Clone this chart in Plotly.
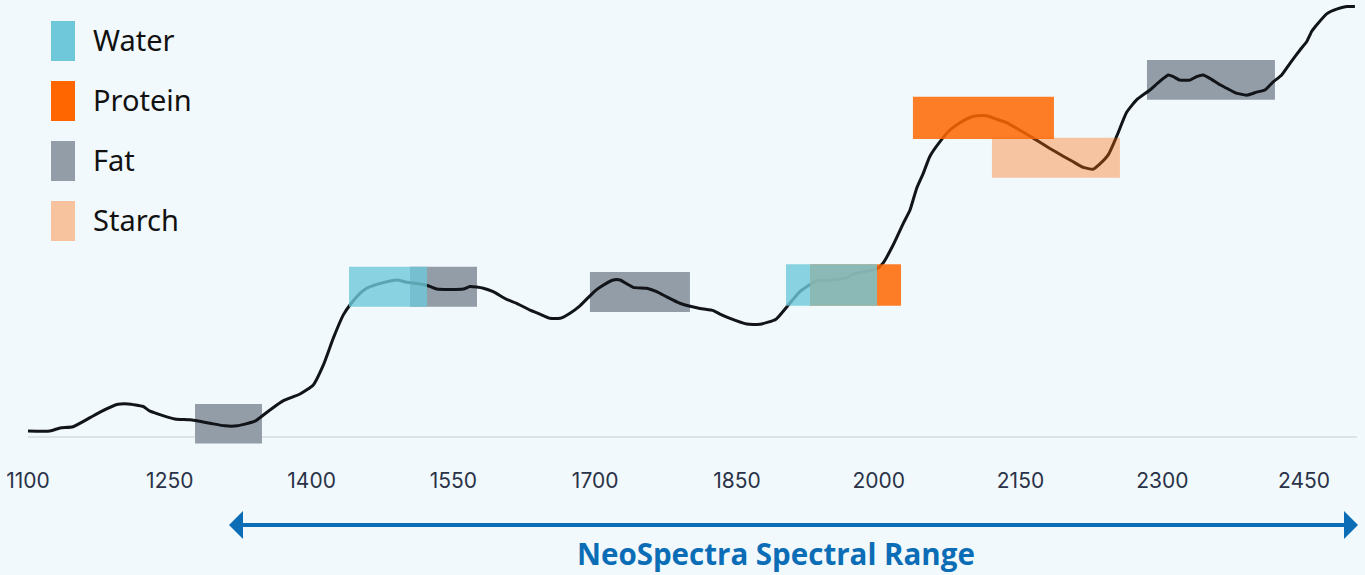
import plotly.graph_objects as go

# ---------------- data ----------------
wavelength = [1100, 1123.3, 1133.9, 1147.6, 1165.6, 1176.2, 1195.2, 1205.8, 1221.7, 1229.1,
              1255.5, 1271.4, 1292.5, 1308.4, 1321.1, 1340.1, 1356.0, 1369.8, 1387.7, 1401.8,
              1412.4, 1423.0, 1433.6, 1440.6, 1451.2, 1458.3, 1475.9, 1490.0, 1500.6, 1511.2,
              1521.8, 1532.4, 1560.5, 1567.6, 1581.7, 1592.2, 1606.4, 1617.0, 1631.1, 1641.6,
              1652.2, 1662.8, 1673.4, 1683.9, 1698.0, 1705.1, 1719.2, 1726.3, 1740.3, 1754.5,
              1765.1, 1775.7, 1789.7, 1810.9, 1825.0, 1832.1, 1842.7, 1860.3, 1874.4, 1891.3,
              1902.9, 1916.7, 1934.3, 1951.9, 1966.1, 1973.1, 1983.7, 1997.8, 2004.8, 2015.4,
              2026.0, 2033.1, 2040.1, 2047.1, 2054.2, 2064.8, 2075.4, 2085.9, 2096.5, 2103.6,
              2114.2, 2124.7, 2135.3, 2145.9, 2163.5, 2181.1, 2195.2, 2205.8, 2216.4, 2227.0,
              2234.0, 2242.8, 2251.7, 2262.3, 2272.8, 2286.9, 2295.7, 2306.3, 2311.6, 2318.7,
              2329.3, 2336.3, 2343.3, 2350.4, 2361.0, 2368.1, 2376.8, 2389.2, 2399.8, 2408.6,
              2417.4, 2426.3, 2435.1, 2445.7, 2452.7, 2458.0, 2463.3, 2473.9, 2484.4, 2495.0,
              2503.8]
absorbance = [0.014, 0.014, 0.021, 0.024, 0.045, 0.058, 0.076, 0.077, 0.071, 0.060,
              0.042, 0.040, 0.032, 0.026, 0.026, 0.037, 0.063, 0.084, 0.100, 0.121,
              0.167, 0.230, 0.284, 0.307, 0.334, 0.346, 0.359, 0.365, 0.360, 0.357,
              0.353, 0.344, 0.344, 0.350, 0.346, 0.338, 0.320, 0.311, 0.295, 0.286,
              0.276, 0.276, 0.288, 0.305, 0.336, 0.348, 0.365, 0.365, 0.348, 0.346,
              0.338, 0.326, 0.311, 0.299, 0.294, 0.286, 0.276, 0.263, 0.262, 0.274,
              0.303, 0.338, 0.363, 0.365, 0.370, 0.379, 0.384, 0.391, 0.405, 0.447,
              0.497, 0.528, 0.578, 0.613, 0.653, 0.687, 0.714, 0.731, 0.743, 0.747,
              0.747, 0.739, 0.731, 0.718, 0.695, 0.671, 0.653, 0.640, 0.627, 0.623,
              0.635, 0.656, 0.699, 0.755, 0.784, 0.807, 0.824, 0.842, 0.838, 0.830,
              0.830, 0.838, 0.842, 0.834, 0.819, 0.811, 0.801, 0.795, 0.802, 0.807,
              0.826, 0.842, 0.869, 0.900, 0.919, 0.943, 0.958, 0.984, 0.995, 1.001,
              1.001]

# absorption bands (drawing order matters for overlaps)
band_component = ["Fat", "Fat", "Fat", "Fat", "Protein", "Water", "Water", "Protein", "Starch"]
band_x0 = [1276.7, 1504.1, 1694.5, 2283.8, 1927.3, 1439.6, 1901.9, 2036.2, 2119.8]
band_x1 = [1347.5, 1575.0, 1800.3, 2419.2, 2023.6, 1522.1, 1998.2, 2185.4, 2255.2]
band_y0 = [-0.015, 0.303, 0.291, 0.784, 0.305, 0.303, 0.305, 0.693, 0.603]
band_y1 = [0.077, 0.396, 0.384, 0.877, 0.402, 0.396, 0.402, 0.791, 0.696]

legend_labels = ["Water", "Protein", "Fat", "Starch"]
legend_colors = ["#6EC8DA", "#FF6600", "#939DA8", "#F6C39E"]

tick_values = [1100, 1250, 1400, 1550, 1700, 1850, 2000, 2150, 2300, 2450]
range_label = "NeoSpectra Spectral Range"

# ---------------- styles ----------------
BG = "#F1F9FC"
band_fill = {
    "Water": ("#6EC8DA", 0.8, "above"),
    "Protein": ("#FF6600", 0.85, "above"),
    "Fat": ("#939DA8", 1.0, "below"),
    "Starch": ("#FF6600", 0.36, "above"),
}

W, H = 1365, 575
L, R, T, B = 28, 8, 2, 125
PW, PH = W - L - R, H - T - B


def px(xp):
    return (xp - L) / PW


def py(yp):
    return (H - B - yp) / PH


fig = go.Figure()
fig.add_trace(go.Scatter(x=wavelength, y=absorbance, mode="lines",
                         line=dict(color="#111418", width=3, shape="spline", smoothing=0.5),
                         hoverinfo="skip", showlegend=False))

shapes = []
# baseline
shapes.append(dict(type="line", xref="x", yref="y", x0=1100, x1=2506, y0=0, y1=0,
                   line=dict(color="#D6DBE0", width=1.5), layer="below"))
for comp, x0, x1, y0, y1 in zip(band_component, band_x0, band_x1, band_y0, band_y1):
    col, op, layer = band_fill[comp]
    shapes.append(dict(type="rect", xref="x", yref="y", x0=x0, x1=x1, y0=y0, y1=y1,
                       fillcolor=col, opacity=op, line=dict(width=0), layer=layer))

annotations = []
# legend
for i, (lab, col) in enumerate(zip(legend_labels, legend_colors)):
    top = 21 + i * 60
    shapes.append(dict(type="rect", xref="paper", yref="paper",
                       x0=px(51), x1=px(75), y0=py(top + 40), y1=py(top),
                       fillcolor=col, line=dict(width=0)))
    annotations.append(dict(xref="paper", yref="paper", x=px(91), y=py(top + 18.5),
                            text=lab, showarrow=False, xanchor="left", yanchor="middle",
                            font=dict(family="Noto Sans", size=29, color="#111111")))

# spectral range arrow
ARROW = "#0A6DB5"
ay = 525
shapes.append(dict(type="line", xref="paper", yref="paper", x0=px(240), x1=px(1346),
                   y0=py(ay), y1=py(ay), line=dict(color=ARROW, width=4)))
shapes.append(dict(type="path", xref="paper", yref="paper",
                   path=f"M {px(229)} {py(ay)} L {px(243)} {py(ay-14)} L {px(243)} {py(ay+14)} Z",
                   fillcolor=ARROW, line=dict(width=0)))
shapes.append(dict(type="path", xref="paper", yref="paper",
                   path=f"M {px(1358)} {py(ay)} L {px(1344)} {py(ay-14)} L {px(1344)} {py(ay+14)} Z",
                   fillcolor=ARROW, line=dict(width=0)))
annotations.append(dict(xref="paper", yref="paper", x=px(776), y=py(553), text=f"<b>{range_label}</b>",
                        showarrow=False, xanchor="center", yanchor="middle",
                        font=dict(family="Open Sans", size=29.5, color=ARROW)))

fig.update_layout(
    width=W, height=H,
    margin=dict(l=L, r=R, t=T, b=B, pad=0),
    paper_bgcolor=BG, plot_bgcolor=BG,
    shapes=shapes, annotations=annotations,
    showlegend=False,
    xaxis=dict(range=[1100, 2506], tickvals=tick_values, ticktext=[str(v) for v in tick_values],
               showgrid=False, zeroline=False, showline=False,
               ticks="outside", ticklen=12, tickcolor=BG,
               tickfont=dict(family="Inter", size=21, color="#2A3348")),
    yaxis=dict(range=[-0.0302, 1.0116], visible=False, showgrid=False, zeroline=False),
)

fig.write_html("out.html", config={"displayModeBar": False},
               post_script="document.body.style.margin='0';document.body.style.background='" + BG + "';")
